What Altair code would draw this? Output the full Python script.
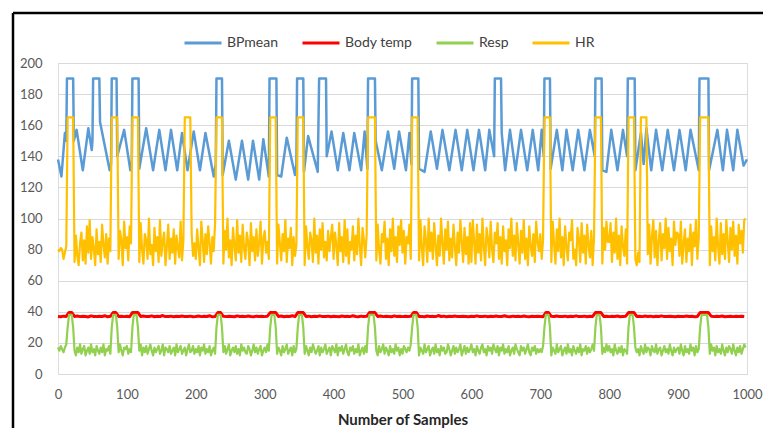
import altair as alt
import pandas as pd

# ---------------- data ----------------
series_names = ["BPmean", "Body temp", "Resp", "HR"]
series_colors = ["#5B9BD5", "#FF0000", "#92D050", "#FFC000"]

# BPmean: vertices (sample index, value)
bp_x = [0, 5, 10, 12, 13, 22, 23, 27, 36, 44, 49, 50, 51, 60, 61, 75, 77, 78, 85, 86,
        96, 105, 107, 108, 117, 118, 128, 138, 147, 156, 164, 173, 180, 188, 197, 206, 214, 226, 229, 230,
        238, 239, 248, 258, 267, 276, 283, 292, 298, 306, 307, 317, 318, 324, 332, 344, 346, 347, 356, 357,
        363, 377, 379, 389, 390, 397, 406, 414, 423, 430, 440, 445, 449, 450, 460, 461, 470, 479, 488, 495,
        505, 510, 513, 514, 523, 524, 532, 541, 550, 558, 568, 577, 586, 594, 603, 611, 620, 626, 633, 634,
        643, 644, 649, 656, 664, 672, 681, 689, 697, 702, 705, 706, 714, 715, 724, 732, 738, 747, 755, 764,
        772, 779, 780, 789, 790, 796, 803, 812, 820, 826, 827, 837, 838, 846, 850, 854, 861, 868, 877, 885,
        894, 902, 911, 918, 930, 931, 944, 945, 957, 965, 971, 980, 986, 995, 1000]
bp_y = [138, 127, 155, 150, 190, 190, 150, 157, 131, 158, 144, 150, 190, 190, 162, 131, 135, 190, 190, 140,
        157, 131, 135, 190, 190, 132, 158, 131, 157, 131, 157, 131, 155, 131, 156, 131, 155, 127, 135, 190,
        190, 128, 150, 125, 150, 125, 150, 125, 151, 127, 190, 190, 128, 127, 152, 128, 135, 190, 190, 130,
        153, 130, 190, 190, 140, 156, 131, 155, 131, 155, 131, 156, 132, 190, 190, 150, 131, 156, 132, 156,
        131, 155, 135, 190, 190, 132, 130, 156, 132, 157, 131, 157, 131, 157, 131, 157, 131, 157, 140, 190,
        190, 155, 131, 157, 131, 157, 131, 157, 131, 157, 140, 190, 190, 132, 157, 131, 157, 131, 157, 131,
        157, 140, 190, 190, 131, 130, 157, 131, 157, 140, 190, 190, 131, 155, 135, 158, 131, 157, 131, 157,
        131, 157, 131, 157, 131, 190, 190, 131, 157, 131, 157, 131, 157, 134, 138]

# HR and Resp read every 2 samples (0, 2, 4, ... 998)
fine_step = 2
hr = [80, 79, 81, 80, 74, 78, 82, 165, 165, 165, 165, 165, 72, 89, 76, 70, 84, 91, 73, 86, 71, 95, 78, 99, 74,
      88, 81, 70, 93, 77, 85, 72, 96, 83, 75, 90, 71, 87, 79, 165, 165, 165, 165, 165, 74, 92, 86, 70, 98, 81,
      88, 73, 95, 84, 165, 165, 165, 165, 165, 72, 97, 80, 71, 90, 86, 74, 100, 77, 83, 70, 94, 79, 88, 72, 99,
      76, 85, 91, 70, 82, 96, 74, 87, 78, 93, 71, 89, 81, 75, 98, 73, 86, 165, 165, 165, 165, 165, 90, 76, 84,
      74, 93, 81, 70, 98, 86, 72, 90, 77, 95, 84, 71, 88, 79, 97, 165, 165, 165, 165, 165, 71, 92, 80, 100, 75,
      86, 70, 94, 83, 73, 99, 78, 89, 72, 96, 81, 74, 91, 85, 70, 97, 79, 88, 73, 93, 76, 84, 98, 71, 87,
      92, 78, 85, 74, 165, 165, 165, 165, 165, 71, 96, 84, 73, 90, 79, 99, 72, 87, 81, 94, 70, 88, 76, 83,
      165, 165, 165, 165, 165, 70, 95, 82, 74, 91, 86, 72, 100, 78, 89, 71, 93, 80, 97, 75, 85, 73, 92, 79, 88, 96,
      74, 91, 83, 70, 97, 79, 88, 72, 99, 76, 93, 71, 85, 80, 95, 73, 89, 77, 100, 82, 70, 94, 86, 75, 90,
      165, 165, 165, 165, 165, 165, 73, 96, 80, 71, 90, 85, 98, 74, 87, 70, 93, 79, 100, 76, 88, 72, 95, 83, 99,
      78, 92, 71, 88, 84, 96, 74, 165, 165, 165, 165, 165, 73, 99, 81, 70, 95, 86, 72, 100, 79, 91, 74, 97, 83,
      70, 89, 76, 100, 84, 71, 93, 80, 98, 73, 87, 75, 96, 82, 70, 91, 78, 99, 85, 72, 94, 77, 88, 71, 97,
      72, 99, 85, 71, 96, 78, 90, 73, 100, 82, 70, 94, 87, 75, 98, 80, 72, 91, 84, 97, 74, 88, 71, 95, 79,
      86, 70, 93, 81, 100, 76, 89, 73, 97, 84, 71, 92, 78, 99, 74, 87, 70, 95, 82, 76, 90, 72, 98, 85, 79,
      90, 74, 86, 165, 165, 165, 165, 165, 72, 98, 84, 71, 93, 79, 100, 75, 88, 70, 95, 82, 73, 91, 86, 99, 74,
      80, 70, 94, 87, 72, 97, 78, 89, 71, 96, 83, 75, 92, 70, 88, 165, 165, 165, 165, 165, 71, 94, 80, 98, 85,
      85, 97, 72, 91, 78, 100, 74, 89, 70, 95, 82, 76, 93, 71, 165, 165, 165, 165, 165, 74, 70, 78, 72,
      165, 165, 165, 165, 165, 77, 96, 71, 88, 99, 75, 92, 70, 86, 97, 73, 90, 81, 100, 74, 94, 79, 87, 70, 98, 83, 91,
      90, 76, 98, 71, 84, 93, 72, 87, 79, 96, 70, 91, 82, 99, 74, 88, 165, 165, 165, 165, 165, 165, 165,
      70, 95, 79, 88, 73, 100, 82, 71, 97, 77, 90, 74, 99, 85, 72, 94, 80, 98, 76, 89, 71, 96, 84, 92, 78, 99, 100]
resp = [17, 15, 18, 16, 14, 17, 19, 30, 38, 38, 38, 30, 15, 12, 17, 14, 19, 13, 16, 18, 12, 15, 17, 13, 19,
        14, 16, 12, 18, 15, 13, 17, 14, 19, 12, 16, 15, 18, 13, 30, 38, 38, 38, 30, 14, 19, 15, 12, 17, 16,
        18, 13, 16, 14, 30, 38, 38, 38, 30, 15, 19, 12, 17, 14, 18, 13, 16, 19, 15, 12, 17, 14, 16, 18, 13,
        15, 19, 12, 17, 16, 14, 18, 13, 15, 17, 12, 19, 14, 16, 18, 13, 15, 17, 12, 16, 19, 14, 15, 18, 13,
        16, 14, 18, 12, 17, 15, 19, 13, 16, 14, 18, 12, 15, 17, 13, 30, 38, 38, 38, 30, 14, 18, 13, 16, 19,
        12, 15, 17, 14, 18, 13, 16, 12, 19, 15, 17, 14, 13, 18, 16, 12, 15, 19, 14, 17, 13, 16, 18, 12, 15,
        17, 14, 19, 15, 30, 38, 38, 38, 30, 13, 17, 15, 12, 18, 14, 16, 19, 13, 15, 17, 12, 18, 14, 16,
        30, 38, 38, 38, 30, 13, 18, 15, 12, 17, 14, 19, 16, 13, 15, 18, 12, 17, 14, 16, 19, 13, 15, 17, 12, 18,
        16, 14, 19, 12, 17, 15, 18, 13, 16, 19, 14, 12, 17, 15, 18, 13, 16, 14, 19, 12, 15, 17, 13, 18, 14,
        30, 38, 38, 38, 38, 30, 15, 12, 18, 14, 16, 19, 13, 17, 15, 12, 18, 14, 16, 13, 19, 15, 17, 12, 16,
        13, 18, 16, 14, 17, 15, 19, 30, 38, 38, 38, 30, 12, 17, 15, 13, 19, 14, 16, 18, 12, 15, 17, 13, 19,
        14, 16, 12, 18, 15, 17, 13, 14, 19, 16, 12, 15, 18, 13, 17, 14, 16, 19, 12, 15, 18, 13, 17, 14, 16,
        19, 14, 16, 12, 18, 15, 13, 17, 19, 14, 16, 12, 18, 15, 17, 13, 19, 16, 14, 18, 12, 17, 15, 19, 13,
        16, 14, 18, 12, 15, 17, 13, 19, 16, 14, 12, 18, 15, 17, 13, 16, 19, 14, 12, 17, 15, 18, 13, 16, 14,
        16, 14, 18, 30, 38, 38, 38, 30, 12, 17, 15, 13, 19, 14, 16, 18, 12, 15, 17, 13, 19, 14, 16, 12, 18,
        15, 13, 17, 14, 19, 12, 16, 15, 18, 13, 17, 14, 16, 19, 15, 30, 38, 38, 38, 30, 13, 17, 14, 19, 15,
        18, 14, 16, 12, 19, 15, 13, 17, 14, 18, 12, 16, 15, 13, 30, 38, 38, 38, 30, 17, 14, 16, 12, 18, 15,
        13, 19, 14, 17, 16, 12, 18, 15, 14, 19, 13, 16, 17, 12, 15, 18, 14, 16, 13, 19, 15, 12, 17, 14, 16,
        17, 13, 19, 15, 12, 18, 14, 16, 13, 19, 15, 17, 12, 18, 14, 16, 30, 38, 38, 38, 38, 38, 30,
        13, 19, 15, 17, 12, 18, 14, 16, 13, 19, 15, 12, 17, 14, 18, 16, 13, 19, 15, 12, 17, 14, 18, 13, 16, 19, 17]

# Body temp read every 4 samples (0, 4, 8, ... 996)
coarse_step = 4
temp = [37, 36.8, 37.2, 37, 39.6, 39.5, 37, 37.3, 36.9, 37.1, 37, 36.7, 37.4, 37, 36.9, 37.2, 37, 37.5, 36.8, 37.1, 39.5, 39.5, 37, 37.2, 36.9,
        37.1, 36.8, 39.5, 39.6, 39.5, 37, 37.3, 36.9, 37, 37.4, 36.8, 37.1, 37, 37.6, 36.9, 37, 37.2, 36.8, 37.1, 37, 37.3, 36.9, 37, 37.2, 36.8,
        37, 37.3, 36.9, 37.1, 37, 37.5, 36.8, 37, 39.5, 39.5, 37.1, 36.9, 37.2, 37, 36.8, 37.4, 37, 37.1, 36.9, 37.3, 37, 36.8, 37.2, 37, 37.1,
        36.9, 37.2, 39.5, 39.6, 39.5, 37, 37.3, 36.8, 37.1, 37, 37.5, 36.9, 39.5, 39.6, 39.5, 37, 37.2, 36.8, 37.1, 37, 37.4, 36.9, 37, 37.2, 36.8,
        37.1, 37, 36.8, 37.3, 37, 37.1, 36.9, 37.5, 37, 36.8, 37.2, 37, 37.1, 39.5, 39.6, 39.5, 37, 37.3, 36.9, 37.1, 37, 36.8, 37.4, 37, 37.1,
        36.9, 37.2, 37, 37.1, 39.5, 39.6, 37, 37, 36.8, 37.3, 37, 37.1, 36.9, 37.6, 37, 37.2, 36.8, 37.1, 37, 37.3, 36.9, 37, 37.2, 37, 36.8,
        37.1, 37, 37.4, 36.9, 37, 37.2, 36.8, 37.1, 37, 37.3, 36.9, 37, 37.5, 37, 36.8, 37.2, 37, 37.1, 36.9, 37.3, 37, 36.8, 37.1, 37, 37.2,
        37, 36.8, 39.5, 39.5, 37.1, 37, 37.3, 36.9, 37, 37.2, 36.8, 37.1, 37, 37.4, 36.9, 37, 37.2, 36.8, 37.1, 37, 39.5, 39.6, 39.5, 37, 37.2,
        36.9, 37.1, 37, 37.3, 36.8, 37, 37.2, 39.5, 39.6, 39.5, 37, 37.1, 36.9, 37.3, 37, 37.2, 36.8, 37.1, 37, 37.4, 36.9, 37, 37.2, 37, 36.8,
        37.1, 37, 36.9, 37.3, 37, 37.1, 36.8, 37, 39.5, 39.6, 39.5, 39.5, 37.2, 36.9, 37.1, 37, 37.3, 36.8, 37, 37.2, 36.9, 37.1, 37, 37.2, 37]

x_ticks = [0, 100, 200, 300, 400, 500, 600, 700, 800, 900, 1000]
y_ticks = [0, 20, 40, 60, 80, 100, 120, 140, 160, 180, 200]

# ---------------- tables ----------------
fine_samples = [i * fine_step for i in range(len(hr))]
coarse_samples = [i * coarse_step for i in range(len(temp))]
bp_df = pd.DataFrame({"x": bp_x, "v": bp_y, "s": "BPmean"})
temp_df = pd.DataFrame({"x": coarse_samples, "v": temp, "s": "Body temp"})
resp_df = pd.DataFrame({"x": fine_samples[:len(resp)], "v": resp, "s": "Resp"})
hr_df = pd.DataFrame({"x": fine_samples, "v": hr, "s": "HR"})

FONT = "Lato"

x_enc = alt.X("x:Q",
              scale=alt.Scale(domain=[0, 1000], nice=False, zero=False),
              axis=alt.Axis(values=x_ticks, format="d", title="Number of Samples", grid=False,
                            ticks=False, domain=False, labelPadding=14, labelFontSize=13,
                            labelColor="#595959", labelFont=FONT, titleFont=FONT, titleFontSize=15,
                            titleFontWeight="bold", titleColor="#262626", titleY=45,
                            titleBaseline="middle", labelFlush=False))
y_enc = alt.Y("v:Q",
              scale=alt.Scale(domain=[0, 200], nice=False),
              axis=alt.Axis(values=y_ticks, title=None, ticks=False, domain=False, labelPadding=16,
                            labelFontSize=13, labelColor="#595959", labelFont=FONT,
                            gridColor="#D9D9D9", gridWidth=1))
color_enc = alt.Color("s:N",
                      scale=alt.Scale(domain=series_names, range=series_colors),
                      legend=alt.Legend(title=None, orient="none", direction="horizontal",
                                        legendX=125, legendY=-40, symbolType="stroke",
                                        symbolSize=1369, symbolStrokeWidth=3, labelFont=FONT,
                                        labelFontSize=14, labelColor="#404040", columnPadding=17,
                                        labelOffset=4, padding=0))


def series_layer(df, width):
    return alt.Chart(df).mark_line(strokeWidth=width, strokeJoin="round").encode(
        x=x_enc, y=y_enc, color=color_enc, order="x:Q")


frame_df = pd.DataFrame({"k": [0]})
frame_top = alt.Chart(frame_df).mark_rule(color="black", strokeWidth=2.5).encode(
    x=alt.value(-45), x2=alt.value(705), y=alt.value(-50))
frame_left = alt.Chart(frame_df).mark_rule(color="black", strokeWidth=2.5).encode(
    x=alt.value(-45), y=alt.value(-50), y2=alt.value(370))

chart = alt.layer(
    series_layer(bp_df, 2.5),
    series_layer(temp_df, 3),
    series_layer(resp_df, 2.2),
    series_layer(hr_df, 2.2),
    frame_top,
    frame_left,
).properties(
    width=689, height=311,
    autosize=alt.AutoSizeParams(type="none"),
    padding={"left": 50, "top": 55, "right": 16, "bottom": 54},
).configure_view(stroke=None).configure(background="white")

chart.save("out.html", embed_options={"renderer": "svg", "actions": False})
